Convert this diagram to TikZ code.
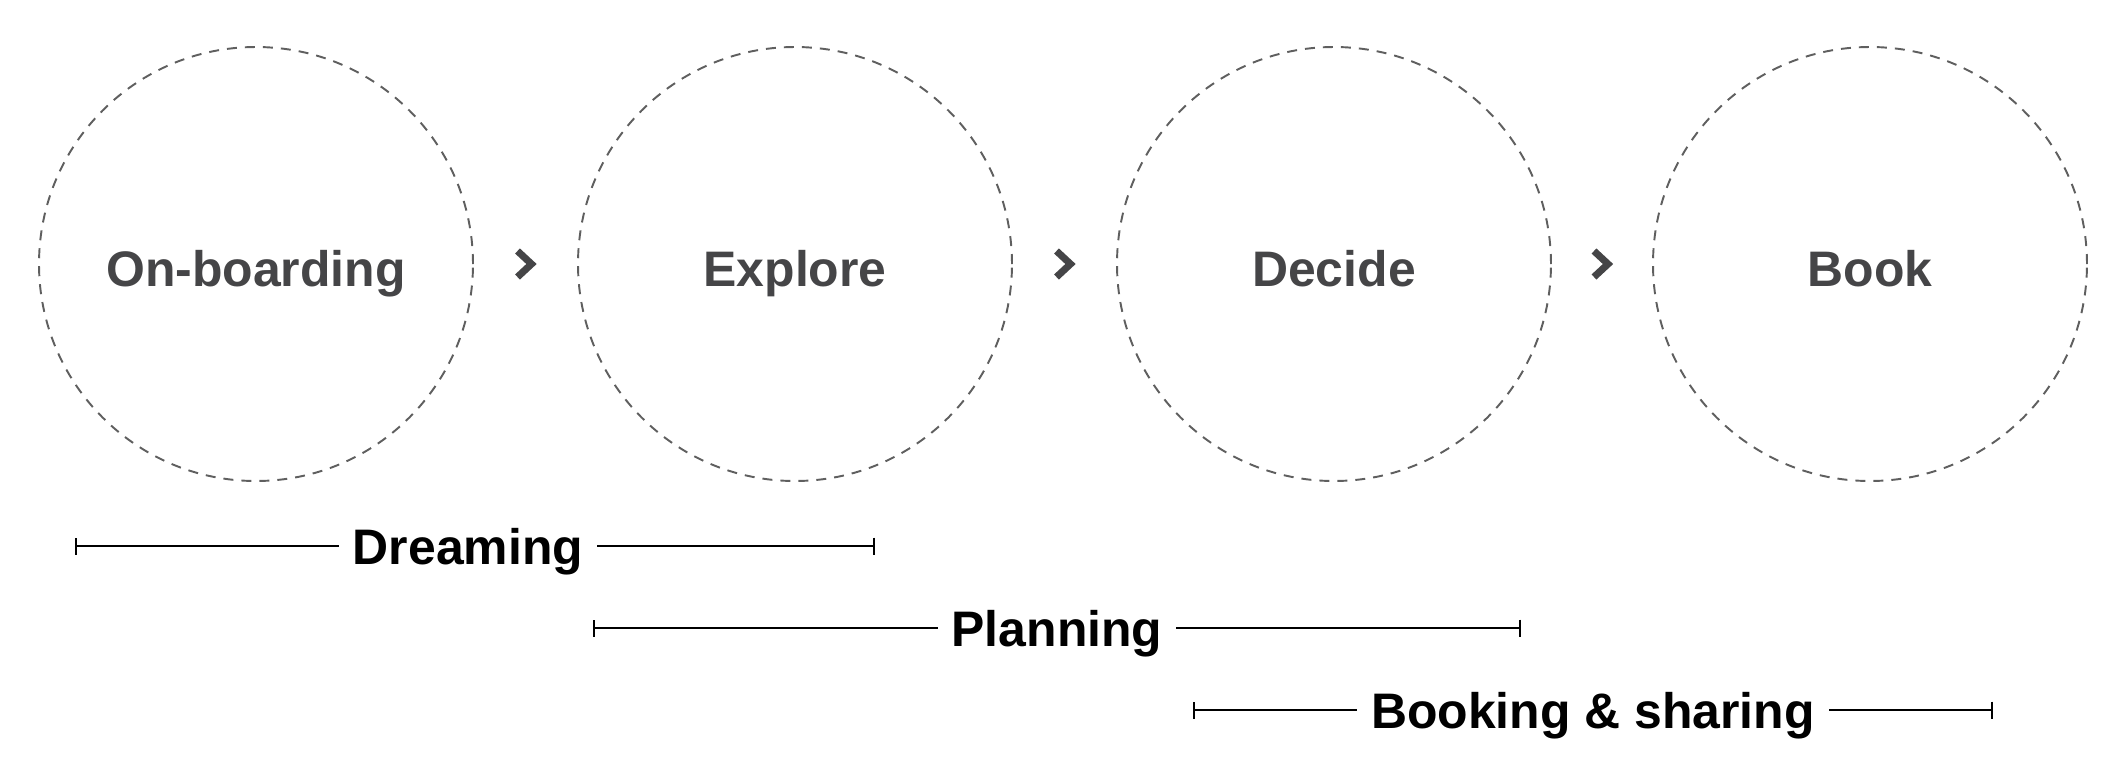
\documentclass[tikz,border=0pt]{standalone}
\usepackage{fontspec}
\setmainfont{Liberation Sans}
\definecolor{stepgray}{RGB}{69,69,71}
\definecolor{ringgray}{RGB}{95,95,95}
\usetikzlibrary{arrows.meta,calc}

\begin{document}
\begin{tikzpicture}[
  stage/.style={circle, draw=ringgray, line width=0.55pt,
    dash pattern=on 0.1cm off 0.08cm, minimum size=4.34cm,
    text height=0.5cm, text depth=0.06cm,
    font=\fontsize{14.2pt}{17pt}\selectfont\bfseries, text=stepgray},
  phase/.style={font=\fontsize{14.2pt}{17pt}\selectfont\bfseries,
    inner xsep=0.13cm, text height=0.46cm, text depth=0.09cm},
  chev/.style={draw=stepgray, line width=2pt, miter limit=10},
  span/.style={line width=0.6pt, {Bar[width=0.17cm, line width=0.6pt]}-}]

\useasboundingbox (0,0) rectangle (21.26,7.78);

% Stages
\node[stage] (onb) at (2.56,5.14) {On-boarding};
\node[stage] (expl) at (7.95,5.14) {Explore};
\node[stage] (dec) at (13.34,5.14) {Decide};
\node[stage] (book) at (18.70,5.14) {Book};

% Chevrons between stages
\foreach \a/\b/\m in {onb/expl/m1, expl/dec/m2, dec/book/m3} {
  \coordinate (\m) at ($(\a.east)!0.5!(\b.west)$);
  \draw[chev] ([shift={(-0.08,0.13)}]\m) -- ([shift={(0.06,0)}]\m)
    -- ([shift={(-0.08,-0.13)}]\m);
}

% Dreaming
\node[phase] (dream) at (4.68,2.32) {Dreaming};
\coordinate (dreamL) at (0.75,2.32);
\coordinate (dreamR) at (8.75,2.32);
\draw[span] (dreamL) -- (dream.west);
\draw[span] (dreamR) -- (dream.east);

% Planning
\node[phase] (plan) at (10.57,1.50) {Planning};
\coordinate (planL) at (5.93,1.50);
\coordinate (planR) at (15.21,1.50);
\draw[span] (planL) -- (plan.west);
\draw[span] (planR) -- (plan.east);

% Booking & sharing
\node[phase] (share) at (15.93,0.68) {Booking \& sharing};
\coordinate (shareL) at (11.93,0.68);
\coordinate (shareR) at (19.93,0.68);
\draw[span] (shareL) -- (share.west);
\draw[span] (shareR) -- (share.east);

\end{tikzpicture}
\end{document}
